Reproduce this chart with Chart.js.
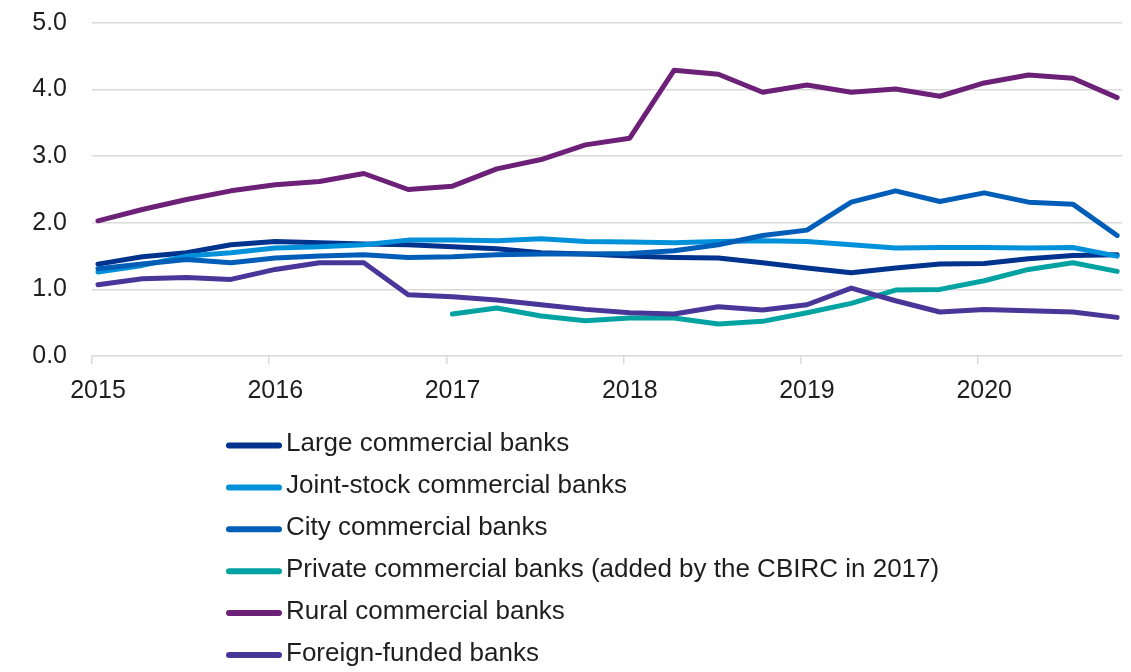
<!DOCTYPE html>
<html>
<head>
<meta charset="utf-8">
<title>NPL ratio by bank type</title>
<script src="https://cdn.jsdelivr.net/npm/chart.js@4.4.1/dist/chart.umd.min.js"></script>
<style>
  html, body { margin: 0; padding: 0; background: #fff; }
  #wrap { width: 1131px; height: 672px; }
</style>
</head>
<body>
<div id="wrap"><canvas id="nplChart" width="1131" height="672"></canvas></div>
<script>
// Quarterly observations, 2015 Q1 - 2020 Q4
const quarters = [
  '2015 Q1', '2015 Q2', '2015 Q3', '2015 Q4',
  '2016 Q1', '2016 Q2', '2016 Q3', '2016 Q4',
  '2017 Q1', '2017 Q2', '2017 Q3', '2017 Q4',
  '2018 Q1', '2018 Q2', '2018 Q3', '2018 Q4',
  '2019 Q1', '2019 Q2', '2019 Q3', '2019 Q4',
  '2020 Q1', '2020 Q2', '2020 Q3', '2020 Q4'
];
const yearLabels = ['2015', '2016', '2017', '2018', '2019', '2020'];
const yTicks = [0, 1, 2, 3, 4, 5];

const largeBanks = [1.38, 1.49, 1.55, 1.67, 1.72, 1.70, 1.68, 1.67, 1.64, 1.61, 1.55, 1.53,
                    1.50, 1.48, 1.47, 1.40, 1.32, 1.25, 1.32, 1.38, 1.39, 1.46, 1.51, 1.52];
const jointStockBanks = [1.26, 1.36, 1.50, 1.55, 1.62, 1.64, 1.67, 1.74, 1.74, 1.73, 1.76, 1.72,
                         1.71, 1.70, 1.72, 1.73, 1.72, 1.67, 1.62, 1.63, 1.63, 1.62, 1.63, 1.50];
const cityBanks = [1.31, 1.38, 1.45, 1.40, 1.47, 1.50, 1.52, 1.48, 1.49, 1.52, 1.53, 1.53,
                   1.54, 1.58, 1.67, 1.81, 1.89, 2.31, 2.48, 2.32, 2.45, 2.31, 2.28, 1.81];
// private banks only reported from 2017 onwards
const privateBanks = [null, null, null, null, null, null, null, null, 0.63, 0.72, 0.60, 0.53,
                      0.57, 0.57, 0.48, 0.52, 0.65, 0.79, 0.99, 1.00, 1.13, 1.30, 1.40, 1.27];
const ruralBanks = [2.03, 2.20, 2.35, 2.48, 2.57, 2.62, 2.74, 2.50, 2.55, 2.81, 2.95, 3.17,
                    3.27, 4.29, 4.23, 3.96, 4.07, 3.96, 4.01, 3.90, 4.10, 4.22, 4.17, 3.88];
const foreignBanks = [1.07, 1.16, 1.18, 1.15, 1.30, 1.40, 1.40, 0.92, 0.89, 0.84, 0.77, 0.70,
                      0.65, 0.63, 0.74, 0.69, 0.77, 1.02, 0.83, 0.66, 0.70, 0.68, 0.66, 0.58];

const seriesLabels = [
  'Large commercial banks',
  'Joint-stock commercial banks',
  'City commercial banks',
  'Private commercial banks (added by the CBIRC in 2017)',
  'Rural commercial banks',
  'Foreign-funded banks'
];
const seriesValues = [largeBanks, jointStockBanks, cityBanks, privateBanks, ruralBanks, foreignBanks];
const seriesColors = ['#00338D', '#0091DA', '#005EB8', '#00A3A1', '#6D2077', '#483698'];

const FONT = "'Liberation Sans', Arial, sans-serif";
const TEXT_COLOR = '#1e1e1e';
const GRID_COLOR = '#d9d9d9';

// year tick marks sit a little to the left of the first quarter of each year
const YEAR_TICK_SHIFT = -0.135;

function toPoints(values) {
  return values.map((v, i) => ({ x: i, y: v }));
}

// vertical legend underneath the plot
const stackedLegend = {
  id: 'stackedLegend',
  afterDraw(chart) {
    const ctx = chart.ctx;
    const top = 445;
    const rowGap = 41.9;
    ctx.save();
    chart.data.datasets.forEach((ds, i) => {
      const y = top + i * rowGap;
      ctx.beginPath();
      ctx.strokeStyle = ds.borderColor;
      ctx.lineWidth = 6;
      ctx.lineCap = 'round';
      ctx.moveTo(229, y + 0.5);
      ctx.lineTo(279, y + 0.5);
      ctx.stroke();
      ctx.fillStyle = TEXT_COLOR;
      ctx.font = '26px ' + FONT;
      ctx.textAlign = 'left';
      ctx.textBaseline = 'middle';
      ctx.fillText(ds.label, 286, y - 1);
    });
    ctx.restore();
  }
};

const ctx = document.getElementById('nplChart').getContext('2d');
new Chart(ctx, {
  type: 'line',
  data: {
    labels: quarters,
    datasets: seriesLabels.map((label, i) => ({
      label: label,
      data: toPoints(seriesValues[i]),
      borderColor: seriesColors[i],
      backgroundColor: seriesColors[i],
      borderWidth: 5,
      borderJoinStyle: 'round',
      borderCapStyle: 'round',
      pointRadius: 0,
      tension: 0,
      fill: false,
      order: -i
    }))
  },
  options: {
    responsive: false,
    devicePixelRatio: 1,
    animation: false,
    events: [],
    layout: { padding: { top: 23, right: 9, bottom: 254, left: 0 } },
    plugins: {
      legend: { display: false },
      tooltip: { enabled: false }
    },
    scales: {
      x: {
        type: 'linear',
        min: YEAR_TICK_SHIFT,
        max: 23.11,
        afterBuildTicks: scale => {
          scale.ticks = yearLabels.map((_, k) => ({ value: k * 4 + YEAR_TICK_SHIFT }));
        },
        ticks: {
          autoSkip: false,
          maxRotation: 0,
          padding: 12,
          labelOffset: 6,
          color: TEXT_COLOR,
          font: { family: FONT, size: 25 },
          callback: (value, index) => yearLabels[index]
        },
        grid: {
          drawOnChartArea: false,
          drawTicks: true,
          tickLength: 8,
          color: GRID_COLOR,
          lineWidth: 1.5
        },
        border: { display: false }
      },
      y: {
        min: 0,
        max: 5,
        afterBuildTicks: scale => {
          scale.ticks = yTicks.map(v => ({ value: v }));
        },
        afterFit: scale => {
          // fixed gutter for the value labels, no extra room above/below
          scale.width = 92;
          scale.paddingTop = 0;
          scale.paddingBottom = 0;
        },
        ticks: {
          padding: 25,
          color: TEXT_COLOR,
          font: { family: FONT, size: 25 },
          callback: value => value.toFixed(1)
        },
        grid: {
          drawTicks: false,
          color: GRID_COLOR,
          lineWidth: 1.5
        },
        border: { display: false }
      }
    }
  },
  plugins: [stackedLegend]
});
</script>
</body>
</html>
